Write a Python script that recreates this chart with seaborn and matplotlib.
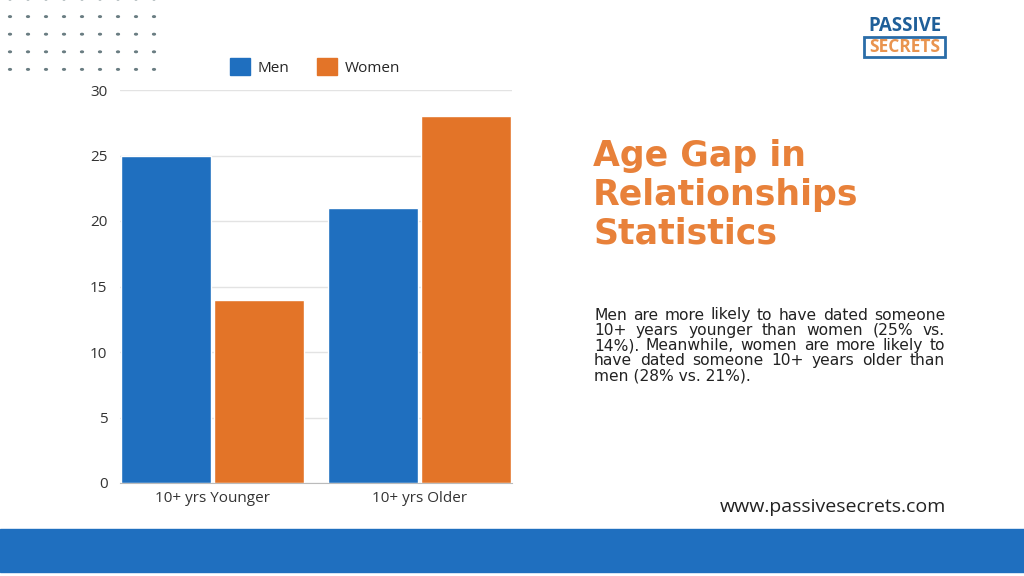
import matplotlib
matplotlib.use("Agg")
import matplotlib.pyplot as plt
import matplotlib.patches as mpatches
from matplotlib.offsetbox import TextArea, HPacker, AnnotationBbox
import seaborn as sns
import pandas as pd
import numpy as np

categories = ["10+ yrs Younger", "10+ yrs Older"]
men = [25, 21]
women = [14, 28]
yticks = [0, 5, 10, 15, 20, 25, 30]

BLUE = "#1F6FBF"
ORANGE = "#E37428"
TITLE_ORANGE = "#E8813A"
TEXT = "#222222"

df = pd.DataFrame({
    "group": categories * 2,
    "sex": ["Men"] * len(categories) + ["Women"] * len(categories),
    "value": men + women,
})

sns.set_theme(style="white")
plt.rcParams["font.family"] = ["Open Sans", "DejaVu Sans"]

fig = plt.figure(figsize=(10.24, 5.76), dpi=100)
ax = fig.add_axes([120 / 1024, 93 / 576, 392 / 1024, 393 / 576])

sns.barplot(data=df, x="group", y="value", hue="sex", order=categories,
            hue_order=["Men", "Women"], palette=[BLUE, ORANGE],
            width=0.894, gap=0.027, saturation=1, ax=ax, legend=False)

ax.set_xlim(-0.447, 1.447)
ax.set_ylim(0, 30)
ax.set_yticks(yticks)
ax.set_yticklabels([str(t) for t in yticks], fontsize=11, color="#333333")
ax.tick_params(axis="x", labelsize=11, colors="#333333", length=0, pad=6)
ax.tick_params(axis="y", length=0, pad=9)
ax.set_xlabel("")
ax.set_ylabel("")
ax.yaxis.grid(True, color="#e3e3e3", linewidth=1)
ax.set_axisbelow(True)
for s in ["top", "right", "left"]:
    ax.spines[s].set_visible(False)
ax.spines["bottom"].set_color("#bbbbbb")
ax.spines["bottom"].set_linewidth(0.8)

# legend above the plot
handles = [mpatches.Patch(color=BLUE, label="Men"),
           mpatches.Patch(color=ORANGE, label="Women")]
fig.legend(handles=handles, loc="center", bbox_to_anchor=(315 / 1024, 1 - 67 / 576),
           ncol=2, frameon=False, fontsize=11, handlelength=1.3, handleheight=1.3,
           handletextpad=0.5, columnspacing=1.8)

# dotted decoration top-left
for yy in np.arange(-1, 75, 17.6):
    for xx in np.arange(10, 160, 18):
        fig.patches.append(mpatches.Circle((xx / 1024, 1 - yy / 576), 1.4 / 1024,
                                           transform=fig.transFigure, color="#6a7d82",
                                           zorder=5))

# title
fig.text(593 / 1024, 1 - 139 / 576, "Age Gap in\nRelationships\nStatistics",
         fontsize=25, fontweight="bold", color=TITLE_ORANGE, va="top", ha="left",
         linespacing=1.18, family="DejaVu Sans")

# justified paragraph
lines = [
    "Men are more likely to have dated someone",
    "10+ years younger than women (25% vs.",
    "14%). Meanwhile, women are more likely to",
    "have dated someone 10+ years older than",
    "men (28% vs. 21%).",
]
renderer = fig.canvas.get_renderer()
x0, x1 = 594, 945
fs = 11.2
tprops = dict(fontsize=fs, color=TEXT, family="DejaVu Sans")
for i, line in enumerate(lines):
    y = 1 - (315 + i * 15.3) / 576
    words = line.split(" ")
    if i == len(lines) - 1:
        sep_pt = 0
        words = [line]
    else:
        tmp = [fig.text(0, 0, w, **tprops) for w in words]
        widths = [t.get_window_extent(renderer).width for t in tmp]
        for t in tmp:
            t.remove()
        sep_pt = (x1 - x0 - sum(widths)) / (len(words) - 1) * 72 / fig.dpi
    box = HPacker(children=[TextArea(w, textprops=tprops) for w in words],
                  align="baseline", pad=0, sep=sep_pt)
    ab = AnnotationBbox(box, (x0 / 1024, y), xycoords="figure fraction",
                        box_alignment=(0, 0.5), frameon=False, pad=0)
    fig.add_artist(ab)

# website
fig.text(946 / 1024, 1 - 507 / 576, "www.passivesecrets.com", fontsize=14,
         color=TEXT, ha="right", va="center")

# logo
fig.text(905 / 1024, 1 - 26 / 576, "PASSIVE", fontsize=13.5, fontweight="bold",
         color="#1F5F99", ha="center", va="center")
fig.patches.append(mpatches.Rectangle((864 / 1024, 1 - 57 / 576), 81 / 1024, 20 / 576,
                                      transform=fig.transFigure, fill=False,
                                      edgecolor="#2A6DA8", linewidth=2))
fig.text(905 / 1024, 1 - 47 / 576, "SECRETS", fontsize=12.5, fontweight="bold",
         color="#E9944F", ha="center", va="center")

# bottom band
fig.patches.append(mpatches.Rectangle((0, 4 / 576), 1, 43 / 576,
                                      transform=fig.transFigure, color=BLUE, zorder=0))

fig.savefig("out.png", dpi=100)
